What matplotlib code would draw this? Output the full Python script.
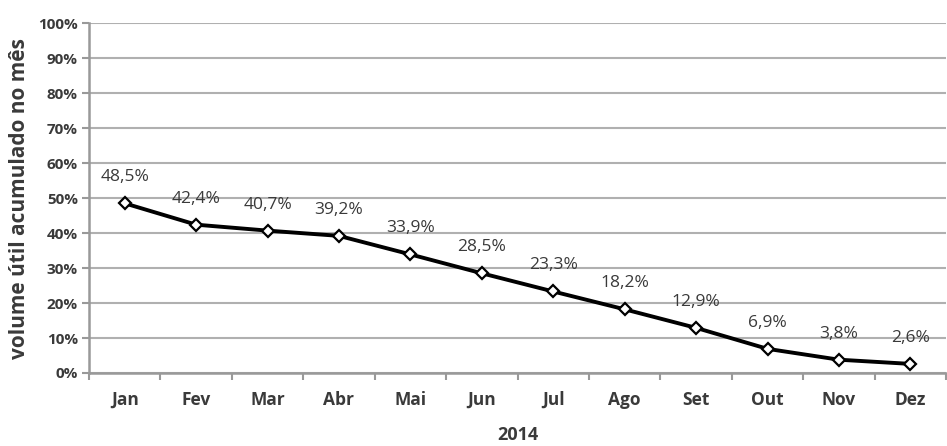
import matplotlib
matplotlib.use("Agg")
import matplotlib.pyplot as plt
from matplotlib.ticker import FixedLocator, NullFormatter

months = ["Jan", "Fev", "Mar", "Abr", "Mai", "Jun", "Jul", "Ago", "Set", "Out", "Nov", "Dez"]
values = [48.5, 42.4, 40.7, 39.2, 33.9, 28.5, 23.3, 18.2, 12.9, 6.9, 3.8, 2.6]
labels = ["48,5%", "42,4%", "40,7%", "39,2%", "33,9%", "28,5%", "23,3%", "18,2%", "12,9%", "6,9%", "3,8%", "2,6%"]
yticks = list(range(0, 101, 10))

plt.rcParams['font.family'] = ['Open Sans', 'DejaVu Sans']
txt = '#3a3a3a'

fig = plt.figure(figsize=(9.47, 4.46), dpi=100)
ax = fig.add_axes([0.094, 0.1637, 0.905, 0.7843])
x = list(range(len(months)))
ax.plot(x, values, color='black', lw=2.8, marker='D', ms=6.5, mfc='white', mec='black', mew=1.6, zorder=3)
for xi, v, l in zip(x, values, labels):
    ax.annotate(l, (xi, v), xytext=(0, 13), textcoords='offset points', ha='center', va='bottom',
                fontsize=12.5, color=txt)

ax.set_xlim(-0.5, len(months) - 0.5)
ax.set_ylim(0, 100)
ax.set_yticks(yticks)
ax.set_yticklabels([f"{t}%" for t in yticks], fontsize=11, fontweight='bold', color=txt)
ax.set_xticks(x)
ax.set_xticklabels(months, fontsize=12.5, fontweight='bold', color=txt)
ax.tick_params(axis='x', length=0, pad=13)
ax.xaxis.set_minor_locator(FixedLocator([i + 0.5 for i in range(-1, len(months))]))
ax.xaxis.set_minor_formatter(NullFormatter())
ax.tick_params(axis='x', which='minor', length=5, width=1.5, color='#999999')
ax.tick_params(axis='y', length=5, width=1.5, color='#999999', pad=3)
ax.grid(axis='y', color='#b0b0b0', lw=1.5)
ax.set_axisbelow(True)
for s in ['top', 'right']:
    ax.spines[s].set_visible(False)
for s in ['left', 'bottom']:
    ax.spines[s].set_color('#999999')
    ax.spines[s].set_linewidth(1.8)
ax.set_ylabel("volume útil acumulado no mês", fontsize=15, fontweight='bold', color=txt, labelpad=6)
ax.set_xlabel("2014", fontsize=13, fontweight='bold', color=txt, labelpad=12)
fig.savefig("out.png", dpi=100)
